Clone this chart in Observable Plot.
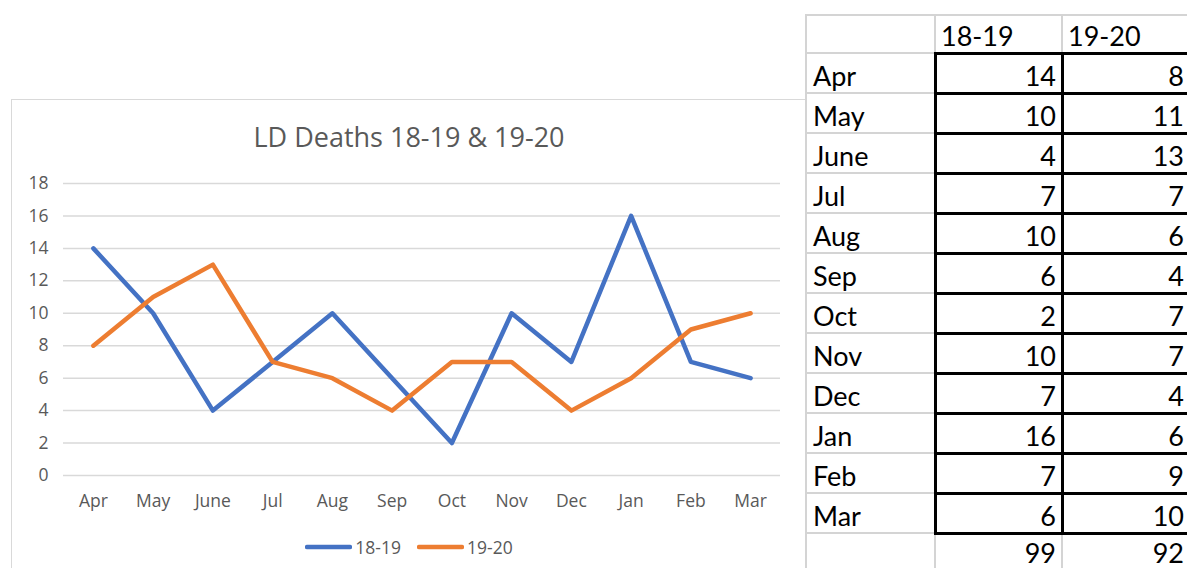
<!DOCTYPE html>
<html>
<head>
<meta charset="utf-8">
<script src="https://cdn.jsdelivr.net/npm/d3@7"></script>
<script src="https://cdn.jsdelivr.net/npm/@observablehq/plot@0.6"></script>
<style>
  html, body { margin: 0; padding: 0; background: #fff; }
  #page { position: relative; width: 1187px; height: 568px; overflow: hidden; background: #fff; }
  #chart { position: absolute; left: 11px; top: 99px; width: 796px; height: 500px; border: 1px solid #d9d9d9; box-sizing: border-box; background: #fff; }
  #title { position: absolute; left: 0; top: 23px; width: 100%; text-align: center; font-family: "Open Sans", sans-serif; font-size: 27px; line-height: 27px; color: #595959; }
  #plot { position: absolute; left: 0; top: 65px; }
  #legend { position: absolute; left: 0; top: 435px; width: 100%; display: flex; justify-content: center; align-items: center; font-family: "Open Sans", sans-serif; font-size: 17.5px; color: #595959; }
  .item { display: flex; align-items: center; margin: 0 8px; }
  .item svg { margin-right: 3px; }
  .tline { position: absolute; }
  .ttext { position: absolute; font-family: Lato, sans-serif; font-size: 27px; color: #000; white-space: nowrap; }
</style>
</head>
<body>
<div id="page">
  <div id="chart">
    <div id="title"></div>
    <div id="plot"></div>
    <div id="legend"></div>
  </div>
  <div id="table"></div>
</div>
<script>
const title = "LD Deaths 18-19 & 19-20";
const months = ["Apr","May","June","Jul","Aug","Sep","Oct","Nov","Dec","Jan","Feb","Mar"];
const seriesNames = ["18-19","19-20"];
const values1819 = [14,10,4,7,10,6,2,10,7,16,7,6];
const values1920 = [8,11,13,7,6,4,7,7,4,6,9,10];
const seriesColors = ["#4472C4","#ED7D31"];
const yTicks = [0,2,4,6,8,10,12,14,16,18];

const seriesValues = [values1819, values1920];
const data = seriesNames.flatMap((s, k) => months.map((m, i) => ({month: m, series: s, value: seriesValues[k][i]})));

document.getElementById("title").textContent = title;

const chart = Plot.plot({
  width: 794,
  height: 350,
  marginLeft: 51,
  marginRight: 26,
  marginTop: 18,
  marginBottom: 40,
  style: {fontFamily: "Open Sans, sans-serif", fontSize: "17.5px", color: "#595959", background: "transparent", overflow: "visible"},
  x: {type: "point", domain: months, padding: 0.5, round: false, label: null},
  y: {domain: [0, 18], label: null},
  color: {domain: seriesNames, range: seriesColors},
  marks: [
    Plot.ruleY(yTicks, {stroke: "#d9d9d9", strokeWidth: 1.5}),
    Plot.axisY(yTicks, {tickSize: 0, tickPadding: 15, label: null, fill: "#595959"}),
    Plot.axisX({tickSize: 0, tickPadding: 19, label: null, fill: "#595959"}),
    Plot.line(data, {x: "month", y: "value", z: "series", stroke: "series", strokeWidth: 4.5, strokeLinejoin: "round", strokeLinecap: "round"})
  ]
});
document.getElementById("plot").appendChild(chart);

// legend
const legend = document.getElementById("legend");
seriesNames.forEach((s, k) => {
  const item = document.createElement("div");
  item.className = "item";
  item.innerHTML = `<svg width="47" height="10"><line x1="2" y1="5" x2="45" y2="5" stroke="${seriesColors[k]}" stroke-width="4.5" stroke-linecap="round"/></svg><span>${s}</span>`;
  legend.appendChild(item);
});

// spreadsheet table
const totals = seriesValues.map(v => d3.sum(v));
const table = document.getElementById("table");
const colX = [806, 935, 1062, 1190];
const gridTop = 15, headerBottom = 53, rowH = 40;
const rowYs = [gridTop, headerBottom];
for (let i = 1; i <= months.length + 1; i++) rowYs.push(headerBottom + i * rowH);

function line(x, y, w, h, color) {
  const d = document.createElement("div");
  d.className = "tline";
  Object.assign(d.style, {left: x + "px", top: y + "px", width: w + "px", height: h + "px", background: color});
  table.appendChild(d);
}
function text(str, x, y, align, lh) {
  const d = document.createElement("div");
  d.className = "ttext";
  d.textContent = str;
  d.style.top = y + "px";
  d.style.lineHeight = (lh || 40) + "px";
  if (align === "right") { d.style.right = (1187 - x) + "px"; }
  else { d.style.left = x + "px"; }
  table.appendChild(d);
}
// gray grid
const gray = "#d4d4d4";
rowYs.forEach(y => line(colX[0] - 1, y - 1, 1187 - colX[0] + 1, 2, gray));
colX.slice(0, 3).forEach(x => line(x - 1, gridTop - 1, 2, 568, gray));
// black borders around data
const dataTop = headerBottom, dataBottom = headerBottom + months.length * rowH;
for (let i = 0; i <= months.length; i++) line(colX[1] - 1.5, dataTop + i * rowH - 1.5, colX[3] - colX[1] + 3, 3, "#000");
[colX[1], colX[2], colX[3]].forEach(x => line(x - 1.5, dataTop - 1.5, 3, dataBottom - dataTop + 3, "#000"));
// header
seriesNames.forEach((s, k) => text(s, colX[k + 1] + 6, gridTop + 1, "left"));
// rows
months.forEach((m, i) => {
  const y = headerBottom + i * rowH + 3;
  text(m, colX[0] + 7, y, "left");
  seriesValues.forEach((v, k) => text(String(v[i]), colX[k + 2] - 6, y, "right"));
});
totals.forEach((t, k) => text(String(t), colX[k + 2] - 6, dataBottom + 6, "right", 28));
</script>
</body>
</html>
